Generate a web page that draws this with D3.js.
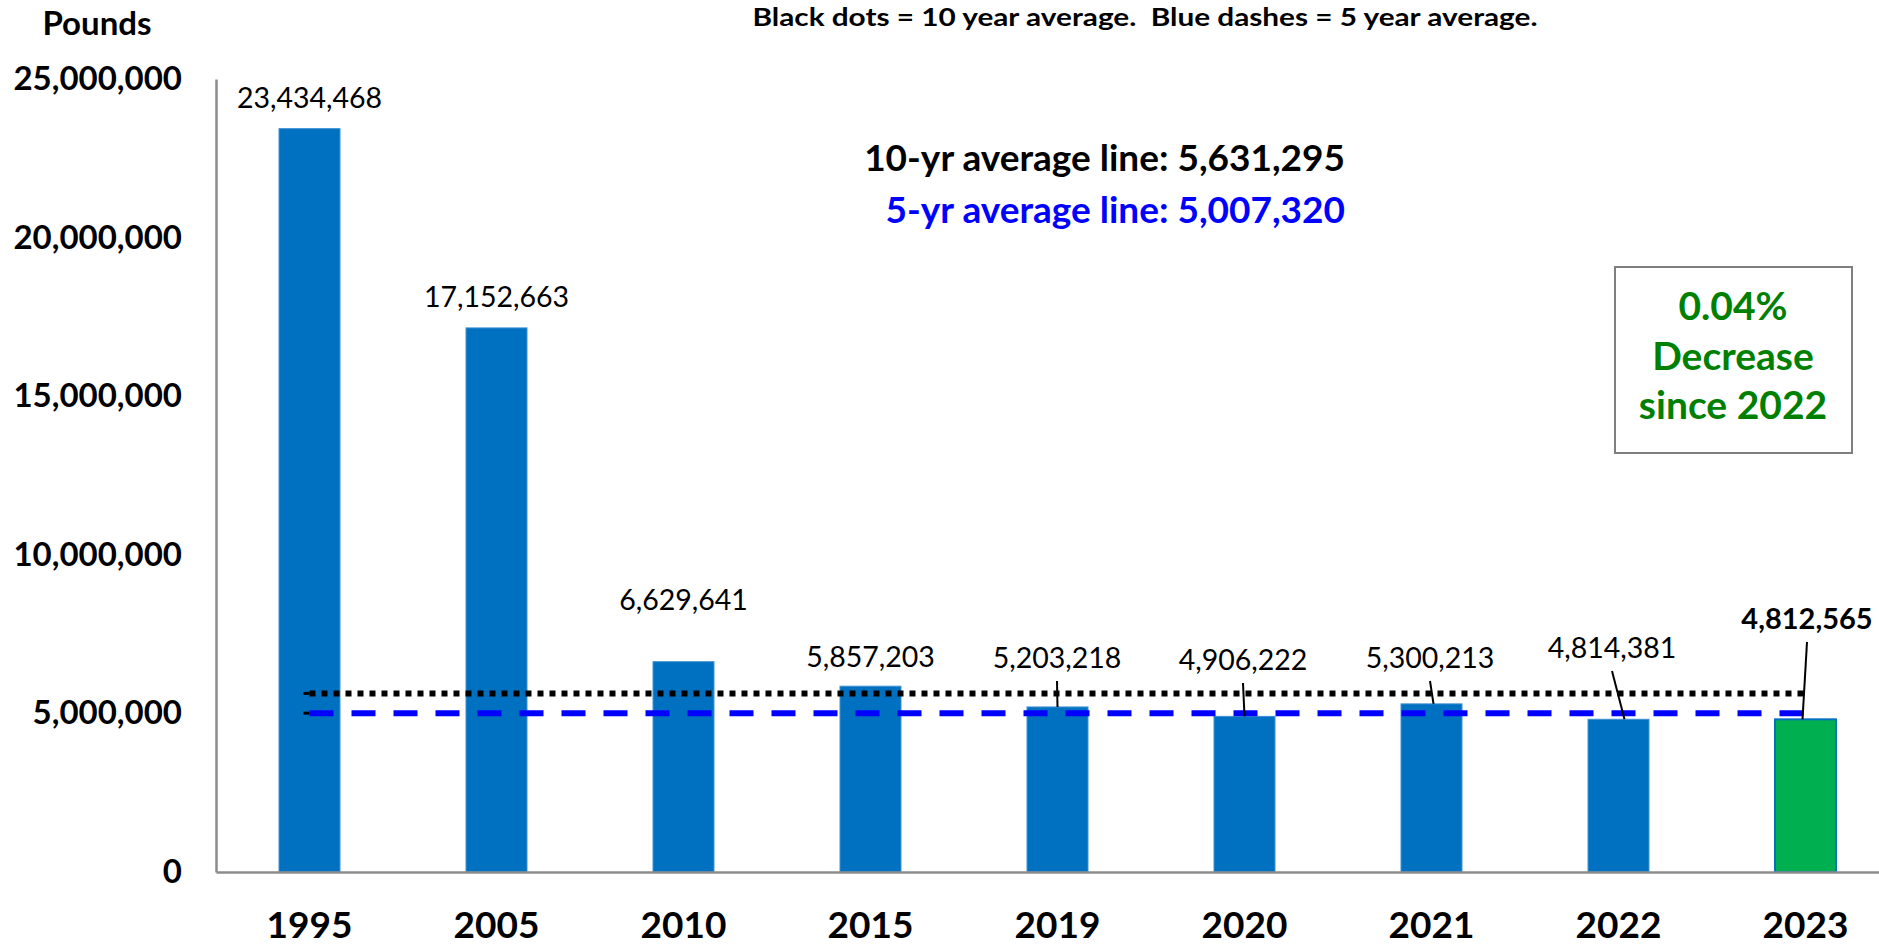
<!DOCTYPE html>
<html>
<head>
<meta charset="utf-8">
<script src="https://cdn.jsdelivr.net/npm/d3@7"></script>
<style>
  html, body { margin: 0; padding: 0; background: #fff; }
  svg { display: block; font-family: Lato, "Open Sans", sans-serif; }
</style>
</head>
<body>
<svg id="chart" width="1879" height="945"></svg>
<script>
// Annual pounds by year
const years = ["1995", "2005", "2010", "2015", "2019", "2020", "2021", "2022", "2023"];
const pounds = [23434468, 17152663, 6629641, 5857203, 5203218, 4906222, 5300213, 4814381, 4812565];

// Reference averages
const avg10 = 5631295;
const avg5 = 5007320;

// Axis ticks
const yTicks = [0, 5000000, 10000000, 15000000, 20000000, 25000000];

// Callout text
const calloutLines = ["0.04%", "Decrease", "since 2022"];

const W = 1879, H = 945;
const margin = { left: 216, top: 79, bottom: 73 };
const plotBottom = H - margin.bottom; // 872

const svg = d3.select("#chart");

const x = d3.scaleBand()
  .domain(years)
  .range([margin.left, margin.left + 187 * years.length])
  .paddingInner(0.674)
  .paddingOuter(0.337);

const y = d3.scaleLinear()
  .domain([0, 25000000])
  .range([plotBottom, margin.top]);

const fmt = d3.format(",");
const cx = d => x(d) + x.bandwidth() / 2;

// Bars
svg.append("g").selectAll("rect")
  .data(years)
  .join("rect")
  .attr("x", d => x(d))
  .attr("width", x.bandwidth())
  .attr("y", (d, i) => y(pounds[i]))
  .attr("height", (d, i) => y(0) - y(pounds[i]))
  .attr("fill", (d, i) => i === years.length - 1 ? "#00B050" : "#0070C0")
  .attr("stroke", (d, i) => i === years.length - 1 ? "#0070C0" : "#3d8fd4")
  .attr("stroke-width", (d, i) => i === years.length - 1 ? 2 : 1);

// Average lines, spanning first to last bar centre
const first = years[0], last = years[years.length - 1];
function avgLine(val, color, dash) {
  svg.append("line")
    .attr("x1", cx(first) - 6).attr("x2", cx(first))
    .attr("y1", y(val)).attr("y2", y(val))
    .attr("stroke", "#000").attr("stroke-width", 3);
  svg.append("line")
    .attr("x1", cx(first)).attr("x2", cx(last))
    .attr("y1", y(val)).attr("y2", y(val))
    .attr("stroke", color).attr("stroke-width", 6)
    .attr("stroke-dasharray", dash);
}
avgLine(avg10, "#000", "6,6");
avgLine(avg5, "#0000FF", "24,18");

// Axes
const yAxis = svg.append("g")
  .attr("transform", `translate(${margin.left},0)`)
  .call(d3.axisLeft(y).tickValues(yTicks).tickFormat(fmt).tickSize(0).tickPadding(34));
yAxis.select(".domain").attr("stroke", "#8c8c8c").attr("stroke-width", 2.5);
yAxis.selectAll("text")
  .attr("font-size", 33).attr("font-weight", 700).attr("fill", "#000")
  .attr("font-family", "Lato");

const xAxis = svg.append("g")
  .attr("transform", `translate(0,${plotBottom})`)
  .call(d3.axisBottom(x).tickSize(0).tickPadding(40));
xAxis.select(".domain").attr("stroke", "#8c8c8c").attr("stroke-width", 2.5);
xAxis.selectAll("text")
  .attr("font-size", 37).attr("font-weight", 700).attr("fill", "#000")
  .attr("font-family", "Lato");

// Value labels: plain labels sit above their bars, the later ones use leader lines
const plainGap = { "1995": 21, "2005": 21, "2010": 52, "2015": 19 };
const leader = {
  "2019": { lx: 1057, ly: 668, dx: 0 },
  "2020": { lx: 1243, ly: 670, dx: 0 },
  "2021": { lx: 1430, ly: 668, dx: 2 },
  "2022": { lx: 1612, ly: 658, dx: 6 },
  "2023": { lx: 1807, ly: 629, dx: -3 }
};

years.forEach((yr, i) => {
  const v = pounds[i];
  const top = y(v);
  if (plainGap[yr] !== undefined) {
    svg.append("text")
      .attr("x", cx(yr)).attr("y", top - plainGap[yr])
      .attr("text-anchor", "middle")
      .attr("font-size", 28.5).attr("fill", "#000")
      .text(fmt(v));
  } else {
    const L = leader[yr];
    const bold = yr === last;
    svg.append("text")
      .attr("x", L.lx).attr("y", L.ly)
      .attr("text-anchor", "middle")
      .attr("font-size", bold ? 29 : 28.5)
      .attr("font-weight", bold ? 700 : 400)
      .attr("fill", "#000")
      .text(fmt(v));
    svg.append("line")
      .attr("x1", L.lx).attr("y1", L.ly + 13)
      .attr("x2", cx(yr) + L.dx).attr("y2", top)
      .attr("stroke", "#000").attr("stroke-width", 2);
  }
});

// Titles and notes
svg.append("text")
  .attr("x", 97).attr("y", 35)
  .attr("text-anchor", "middle")
  .attr("font-size", 33).attr("font-weight", 700)
  .text("Pounds");

svg.append("text")
  .attr("x", 1145).attr("y", 26)
  .attr("text-anchor", "middle")
  .attr("font-size", 24).attr("font-weight", 700)
  .attr("textLength", 785)
  .attr("lengthAdjust", "spacingAndGlyphs")
  .attr("xml:space", "preserve")
  .style("white-space", "pre")
  .text("Black dots = 10 year average.  Blue dashes = 5 year average.");

svg.append("text")
  .attr("x", 1345).attr("y", 171)
  .attr("text-anchor", "end")
  .attr("font-size", 37).attr("font-weight", 700).attr("fill", "#000")
  .text("10-yr average line: " + fmt(avg10));

svg.append("text")
  .attr("x", 1345).attr("y", 223)
  .attr("text-anchor", "end")
  .attr("font-size", 37).attr("font-weight", 700).attr("fill", "#0000FF")
  .text("5-yr average line: " + fmt(avg5));

// Change callout box
svg.append("rect")
  .attr("x", 1615).attr("y", 267)
  .attr("width", 237).attr("height", 186)
  .attr("fill", "#fff").attr("stroke", "#7f7f7f").attr("stroke-width", 2);

svg.append("g").selectAll("text")
  .data(calloutLines)
  .join("text")
  .attr("x", 1733)
  .attr("y", (d, i) => 320 + i * 49.5)
  .attr("text-anchor", "middle")
  .attr("font-size", 39).attr("font-weight", 700).attr("fill", "#008000")
  .text(d => d);
</script>
</body>
</html>
